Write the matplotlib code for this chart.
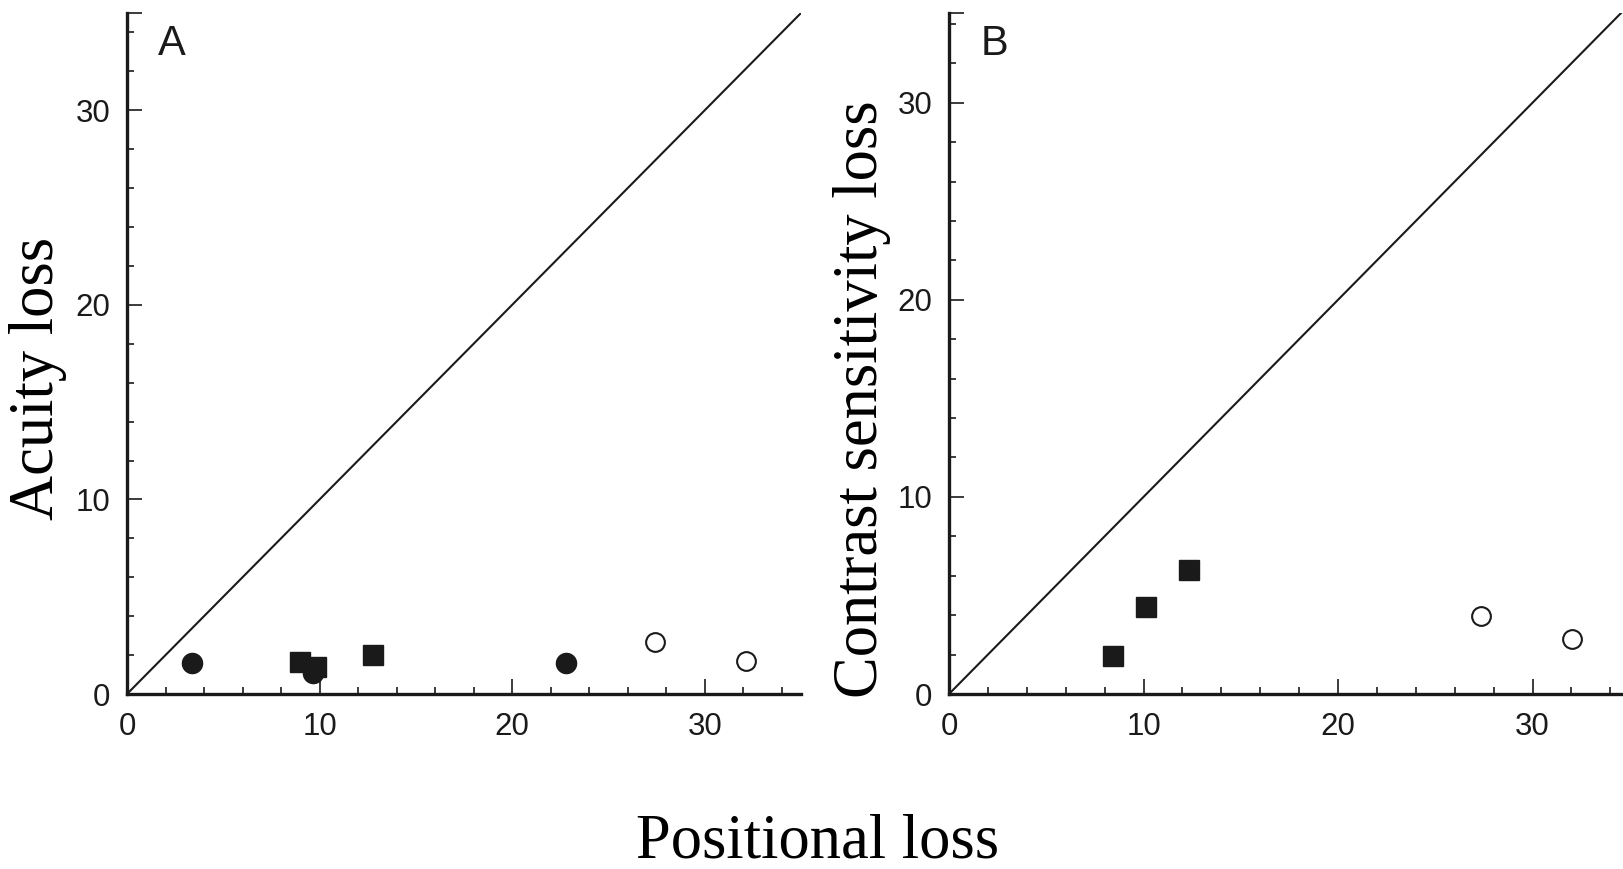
import numpy as np
import matplotlib.pyplot as plt
from matplotlib.ticker import MultipleLocator

# Panel A: acuity loss vs positional loss
a_filled_circle_x = [3.4, 9.65, 22.8]
a_filled_circle_y = [1.6, 1.1, 1.6]
a_square_x = [9.0, 9.8, 12.75]
a_square_y = [1.65, 1.4, 2.0]
a_open_circle_x = [27.4, 32.15]
a_open_circle_y = [2.65, 1.7]

# Panel B: contrast sensitivity loss vs positional loss
b_square_x = [8.45, 10.15, 12.35]
b_square_y = [1.95, 4.4, 6.3]
b_open_circle_x = [27.35, 32.05]
b_open_circle_y = [3.95, 2.8]

ink = '#1a1a1a'
W, H = 1624, 869

fig = plt.figure(figsize=(W / 100, H / 100), dpi=100)
axA = fig.add_axes([127 / W, 175 / H, 674 / W, 681 / H])
axB = fig.add_axes([949 / W, 175 / H, 675 / W, 681 / H])


def style_axis(ax, xmax, ymax):
    ax.set_xlim(0, xmax)
    ax.set_ylim(0, ymax)
    for s in ['top', 'right']:
        ax.spines[s].set_visible(False)
    for s in ['left', 'bottom']:
        ax.spines[s].set_linewidth(2.4)
        ax.spines[s].set_color(ink)
    ax.set_xticks([0, 10, 20, 30])
    ax.set_yticks([0, 10, 20, 30, ymax])
    ax.set_yticklabels(['0', '10', '20', '30', ''])
    ax.xaxis.set_minor_locator(MultipleLocator(2))
    ax.yaxis.set_minor_locator(MultipleLocator(2))
    ax.tick_params(which='both', direction='in', colors=ink, width=1.2)
    ax.tick_params(which='major', length=11)
    ax.tick_params(which='minor', length=5)
    ax.tick_params(axis='x', which='major', pad=13)
    ax.tick_params(axis='y', which='major', pad=12)
    for lab in ax.get_xticklabels() + ax.get_yticklabels():
        lab.set_fontfamily('Liberation Sans')
        lab.set_fontsize(22.5)
        lab.set_color(ink)
    ax.plot([0, 40], [0, 40], color=ink, lw=1.5, zorder=1)


style_axis(axA, 35, 35)
style_axis(axB, 34.7, 34.55)

axA.plot(a_filled_circle_x, a_filled_circle_y, 'o', ms=14.5, color=ink, zorder=3)
axA.plot(a_square_x, a_square_y, 's', ms=14, color=ink, zorder=3)
axA.plot(a_open_circle_x, a_open_circle_y, 'o', ms=13.5, mfc='white', mec=ink, mew=1.5, zorder=3)

axB.plot(b_square_x, b_square_y, 's', ms=14, color=ink, zorder=3)
axB.plot(b_open_circle_x, b_open_circle_y, 'o', ms=13.5, mfc='white', mec=ink, mew=1.5, zorder=3)

axA.text(0.046, 0.938, 'A', transform=axA.transAxes, fontsize=30,
         family='Liberation Sans', color=ink, va='baseline', ha='left')
axB.text(0.047, 0.938, 'B', transform=axB.transAxes, fontsize=30,
         family='Liberation Sans', color=ink, va='baseline', ha='left')

serif = 'Liberation Serif'
fig.text(38 / W, 1 - 378 / H, 'Acuity loss', rotation=90, fontsize=45,
         family=serif, ha='center', va='center')
fig.text(862 / W, 1 - 399 / H, 'Contrast sensitivity loss', rotation=90, fontsize=45,
         family=serif, ha='center', va='center')
fig.text(818 / W, 1 - 843 / H, 'Positional loss', fontsize=45,
         family=serif, ha='center', va='center')

fig.savefig('out.png', dpi=100)
